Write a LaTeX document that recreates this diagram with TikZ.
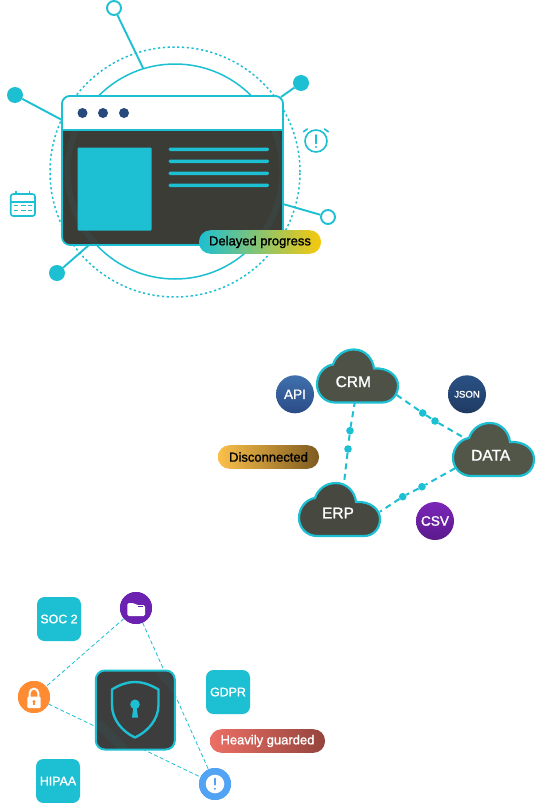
\documentclass[tikz,border=0pt]{standalone}
\usepackage{fontspec}
\setmainfont{Liberation Sans}
\newfontfamily\medfont[FakeBold=1.3]{Liberation Sans}
\usetikzlibrary{calc}
\definecolor{teal1}{HTML}{1DBFD2}
\definecolor{navy1}{HTML}{28497C}
\definecolor{dark1}{HTML}{3C3C36}
\definecolor{yellow1}{HTML}{F7C90C}
\definecolor{cloudA}{HTML}{4E5145}
\definecolor{cloudB}{HTML}{525648}
\definecolor{cloudC}{HTML}{47483F}
\definecolor{boxdark}{HTML}{3D3D3D}
\definecolor{apiA}{HTML}{3F70AD}
\definecolor{apiB}{HTML}{2B4C86}
\definecolor{jsonA}{HTML}{2A5285}
\definecolor{jsonB}{HTML}{1F3A62}
\definecolor{csvA}{HTML}{7C26B8}
\definecolor{csvB}{HTML}{5A1A8C}
\definecolor{discA}{HTML}{FBC04A}
\definecolor{discB}{HTML}{7D5A20}
\definecolor{heavA}{HTML}{EC6F65}
\definecolor{heavB}{HTML}{94443D}
\definecolor{folderc}{HTML}{6C22B0}
\definecolor{lockc}{HTML}{FF8C33}
\definecolor{alertc}{HTML}{52A3F3}
\tikzset{
  x=1pt,y=-1pt,
  tealline/.style={draw=teal1,line width=1.9pt},
  hollowdot/.style={circle,draw=teal1,line width=1.9pt,fill=white,minimum size=14pt,inner sep=0pt},
  soliddot/.style={circle,fill=teal1,minimum size=16pt,inner sep=0pt},
  smalldot/.style={circle,fill=teal1,minimum size=7.6pt,inner sep=0pt},
  bar/.style={fill=teal1,rounded corners=1.5pt},
  navydot/.style={circle,fill=navy1,minimum size=10pt,inner sep=0pt},
  pill/.style={rounded corners=11.5pt,minimum height=23.6pt,inner sep=0pt,font=\medfont\fontsize{13}{15}\selectfont},
  badge/.style={circle,minimum size=38pt,inner sep=0pt,text=white,font=\medfont\fontsize{13.6}{15}\selectfont},
  cloudtext/.style={inner sep=0pt,text=white,font=\medfont\fontsize{15.5}{17}\selectfont},
  cloudlink/.style={draw=teal1,line width=2pt,dash pattern=on 6pt off 4.5pt},
  thinlink/.style={draw=teal1,line width=0.8pt,dash pattern=on 4pt off 2.5pt},
  tagbox/.style={fill=teal1,rounded corners=7.5pt,minimum size=44pt,inner sep=0pt,text=white,font=\medfont\fontsize{12.4}{14}\selectfont},
  iconcircle/.style={circle,minimum size=32pt,inner sep=0pt},
  iconline/.style={draw=teal1,line width=1.6pt,line cap=round,line join=round},
}
\newcommand{\cloudshape}[3]{% left, top, fill
  \path[draw=teal1,line width=2.2pt,fill=#3,shift={(#1,#2)}]
    (18,53) .. controls (8,53) and (0,45) .. (0,35)
    .. controls (0,24) and (8,16) .. (16,15)
    .. controls (19,6) and (27,0) .. (37,0)
    .. controls (48,0) and (56,9) .. (57,19)
    .. controls (71,18) and (81,26) .. (81,36)
    .. controls (81,46) and (74,53) .. (65,53) -- cycle;
}
\begin{document}
\begin{tikzpicture}
\useasboundingbox (0,0) rectangle (535,803);
\fill[white] (0,0) rectangle (535,803);

% ---------- top: window
\node[circle,draw=teal1,line width=1.5pt,dash pattern=on 2.2pt off 2.6pt,minimum size=250pt,inner sep=0pt] (dotring) at (175,172) {};
\node[circle,draw=teal1,line width=1.5pt,minimum size=215pt,inner sep=0pt] (ring) at (175,171.5) {};

\node[hollowdot] (n1) at (114,8) {};
\node[soliddot] (n2) at (301,83) {};
\node[soliddot] (n3) at (15,95) {};
\node[hollowdot] (n4) at (328,217) {};
\node[soliddot] (n5) at (57,273) {};
\coordinate (e1) at (143,68);
\coordinate (e2) at (281,97);
\coordinate (e3) at (62,120);
\coordinate (e4) at (283,204);
\coordinate (e5) at (89,245);
\draw[tealline] (n1) -- (e1);
\draw[tealline] (n2) -- (e2);
\draw[tealline] (n3) -- (e3);
\draw[tealline] (n4) -- (e4);
\draw[tealline] (n5) -- (e5);

\node[draw=teal1,line width=1.7pt,fill=dark1,rounded corners=8pt,minimum width=221pt,minimum height=149pt,inner sep=0pt] (win) at (172.5,170.5) {};
\begin{scope}
  \clip (63,130) rectangle (282,244);
  \draw[teal1,opacity=.06,line width=6pt] (175,171.5) circle (107.5pt);
\end{scope}
\path[fill=white,draw=teal1,line width=1.7pt] (62,130) -- (62,104) arc[start angle=180,end angle=90,radius=8pt] -- (275,96) arc[start angle=90,end angle=0,radius=8pt] -- (283,130) -- cycle;
\node[navydot] (d1) at (82.5,113) {};
\node[navydot] (d2) at (103,113) {};
\node[navydot] (d3) at (124,113) {};
\node[fill=teal1,rounded corners=1pt,minimum width=74pt,minimum height=83pt,inner sep=0pt] (panel) at (114.7,189) {};
\fill[bar] (168.5,147.5) rectangle (269,151);
\fill[bar] (168.5,159.5) rectangle (269,163);
\fill[bar] (168.5,171.5) rectangle (269,175);
\fill[bar] (168.5,183.5) rectangle (269,187);

\node[pill,left color=teal1,right color=yellow1,minimum width=122pt,text=black] (p1) at (260,242) {Delayed progress};

% alarm
\draw[iconline] (316,141) circle (11pt);
\draw[iconline] (303.5,131.7) -- (307.3,129);
\draw[iconline] (328.3,131.7) -- (324.5,129);
\draw[iconline,line width=1.8pt] (316,135) -- (316,143.5);
\fill[teal1] (316,147) circle (1.1pt);
% calendar
\draw[iconline,rounded corners=2.5pt] (10.7,194) rectangle (35,216);
\draw[iconline] (10.7,201.7) -- (35,201.7);
\draw[iconline] (16,191.5) -- (16,194);
\draw[iconline] (29.3,191.5) -- (29.3,194);
\foreach \yy in {205.5,210.5}{
  \draw[teal1,line width=1.7pt] (13.5,\yy) -- (18.3,\yy);
  \draw[teal1,line width=1.7pt] (20.5,\yy) -- (25.5,\yy);
  \draw[teal1,line width=1.7pt] (27.5,\yy) -- (32.3,\yy);
}

% ---------- middle: clouds
\node[smalldot] (a1) at (350,430.7) {};
\node[smalldot] (a2) at (348,449) {};
\node[smalldot] (b1) at (422.7,413) {};
\node[smalldot] (b2) at (435,421) {};
\node[smalldot] (c1) at (422,486.7) {};
\node[smalldot] (c2) at (402.7,496.7) {};
\coordinate (crmS) at (355,401);
\coordinate (erpN) at (344,483);
\coordinate (crmE) at (396.7,395);
\coordinate (dataN) at (463.3,437.3);
\coordinate (dataS) at (455,468.3);
\coordinate (erpE) at (380,511.7);
\draw[cloudlink] (crmS) -- (a1) -- (a2) -- (erpN);
\draw[cloudlink] (crmE) -- (b1) -- (b2) -- (dataN);
\draw[cloudlink] (dataS) -- (c1) -- (c2) -- (erpE);
\cloudshape{317}{349.5}{cloudA}
\cloudshape{453}{423}{cloudB}
\cloudshape{299}{483}{cloudC}
\node[cloudtext] (crm) at (353.3,381.7) {CRM};
\node[cloudtext] (data) at (490.7,455.3) {DATA};
\node[cloudtext] (erp) at (338,513) {ERP};

\node[badge,top color=apiA,bottom color=apiB] (api) at (295,394.3) {API};
\node[badge,top color=jsonA,bottom color=jsonB,font=\medfont\fontsize{9.6}{11}\selectfont] (json) at (467,394.3) {JSON};
\node[badge,top color=csvA,bottom color=csvB] (csv) at (435,521) {CSV};
\node[pill,left color=discA,right color=discB,minimum width=101pt,text=black] (p2) at (268.5,457) {Disconnected};

% ---------- bottom: shield
\node[iconcircle,fill=folderc] (folder) at (136,608) {};
\node[iconcircle,fill=lockc] (lock) at (34,697) {};
\node[iconcircle,fill=alertc] (alert) at (215,784) {};
\draw[thinlink] (folder) -- (lock);
\draw[thinlink] (folder) -- (alert);
\draw[thinlink] (lock) -- (alert);
\node[iconcircle,fill=folderc] at (folder) {};
\node[iconcircle,fill=lockc] at (lock) {};
\node[iconcircle,fill=alertc] at (alert) {};
% folder icon
\fill[white,rounded corners=1.5pt] (127.3,603) -- (134,603) -- (136.5,605) -- (145,605) -- (145,616) -- (127.3,616) -- cycle;
\draw[folderc,line width=.9pt] (137.5,606.5) -- (142.5,606.5);
% lock icon
\draw[white,line width=2pt] (29.7,697) -- (29.7,693) arc[start angle=180,end angle=0,radius=4.3pt] -- (38.3,697);
\fill[white,rounded corners=1.2pt] (27.3,696.7) rectangle (40.7,708);
\fill[lockc] (34,701.5) circle (1.6pt);
\fill[lockc] (33.3,702) rectangle (34.7,705.2);
% alert icon
\fill[white] (alert) circle (9.3pt);
\draw[alertc,line width=2pt,line cap=round] (215,778.5) -- (215,784.5);
\fill[alertc] (215,788.7) circle (1.2pt);

\node[tagbox] (soc) at (59,619) {SOC 2};
\node[tagbox] (gdpr) at (228,692) {GDPR};
\node[tagbox] (hipaa) at (58,781) {HIPAA};
\node[pill,left color=heavA,right color=heavB,minimum width=115pt,text=white] (p3) at (267.5,741) {Heavily guarded};
\node[draw=teal1,line width=2pt,fill=boxdark,rounded corners=9pt,minimum size=79pt,inner sep=0pt] (shield) at (135.3,710) {};
\begin{scope}
  \clip[rounded corners=8pt] (96.5,671.5) rectangle (174,748.5);
  \draw[teal1,opacity=.06,line width=9pt] (160,671) -- (176,690);
  \draw[teal1,opacity=.06,line width=9pt] (97,722) -- (125,750);
\end{scope}
% shield outline and keyhole
\draw[teal1,line width=2.4pt,line join=round]
  (135,682) .. controls (127,682) and (119,685) .. (112,689.5)
  -- (112,705) .. controls (112,720) and (123,732) .. (135,737.5)
  .. controls (147,732) and (158.5,720) .. (158.5,705)
  -- (158.5,689.5) .. controls (151,685) and (143,682) .. (135,682) -- cycle;
\fill[teal1] (135,704.3) circle (4.8pt);
\fill[teal1] (133.5,706) -- (136.5,706) -- (138,717.5) -- (132,717.5) -- cycle;
\end{tikzpicture}
\end{document}
